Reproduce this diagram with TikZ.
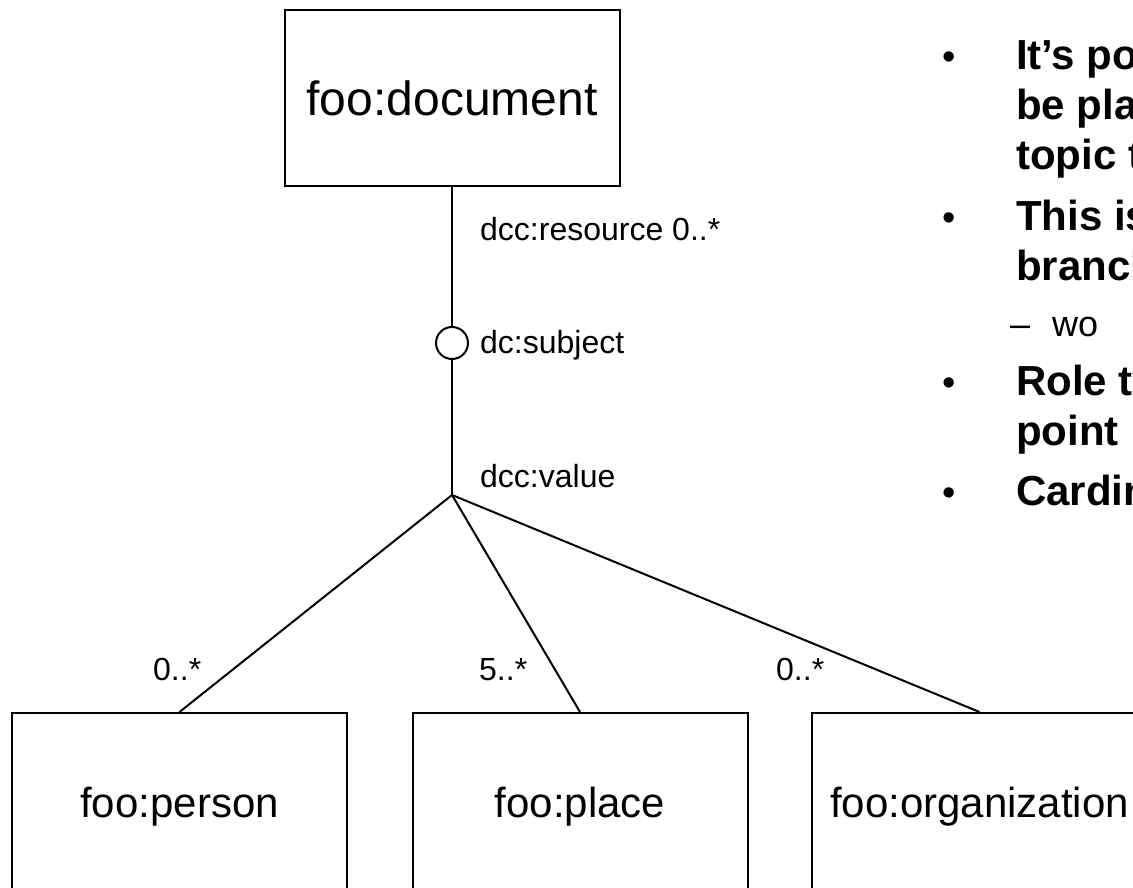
\documentclass[tikz,border=0pt]{standalone}
\usepackage{fontspec}
\setmainfont{Liberation Sans}
\begin{document}
\begin{tikzpicture}[x=1pt,y=-1pt,
  boxst/.style={draw,line width=2pt,inner sep=0pt,minimum width=335pt,text depth=0pt},
  bigbox/.style={boxst,minimum height=176pt,text height=35pt,font=\fontsize{48}{56}\selectfont},
  lowbox/.style={boxst,minimum height=178pt,text height=31pt,font=\fontsize{42}{50}\selectfont},
  conn/.style={line width=2pt},
  lbl/.style={anchor=base west,inner sep=0pt,font=\fontsize{32}{38}\selectfont},
  bultxt/.style={anchor=base west,inner sep=0pt,font=\fontsize{42}{50}\selectfont\bfseries},
  bulmark/.style={anchor=base west,inner sep=0pt,font=\fontsize{38}{44}\selectfont},
  subtxt/.style={anchor=base west,inner sep=0pt,font=\fontsize{36}{42}\selectfont}]
\useasboundingbox (0,0) rectangle (1133,888);
\clip (0,0) rectangle (1133,888);
% boxes
\node[bigbox] (doc) at (452,98) {foo:document};
\node[lowbox] (person) at (179.5,802) {foo:person};
\node[lowbox] (place) at (580,802) {foo:place};
\node[lowbox] (org) at (979.5,802) {foo:organization};
% circle and junction
\node[draw,circle,line width=2pt,minimum size=32pt,inner sep=0pt] (circ) at (452,343) {};
\coordinate (junc) at (452,495);
% connectors
\draw[conn] (doc.south) -- (circ.north);
\draw[conn] (circ.south) -- (junc);
\draw[conn] (junc) -- (person.north);
\draw[conn] (junc) -- (place.north);
\draw[conn] (junc) -- (org.north);
% labels
\node[lbl] (lres) at (480,240) {dcc:resource 0..*};
\node[lbl] (lsub) at (480,353) {dc:subject};
\node[lbl] (lval) at (480,487) {dcc:value};
\node[lbl] (m1) at (153,680) {0..*};
\node[lbl] (m2) at (479,680) {5..*};
\node[lbl] (m3) at (776,680) {0..*};
% bullet text (cut at the right edge)
\node[bulmark] (d1) at (942,70) {•};
\node[bultxt] (t1) at (1016,70) {It’s po};
\node[bultxt] (t2) at (1016,120) {be pla};
\node[bultxt] (t3) at (1016,170) {topic t};
\node[bulmark] (d2) at (942,230) {•};
\node[bultxt] (t4) at (1016,230) {This is};
\node[bultxt] (t5) at (1016,280) {branch};
\node[subtxt] (d3) at (1010,336) {–};
\node[subtxt] (t6) at (1052,336) {wo};
\node[bulmark] (d4) at (942,395) {•};
\node[bultxt] (t7) at (1016,395) {Role ty};
\node[bultxt] (t8) at (1016,445) {point};
\node[bulmark] (d5) at (942,505) {•};
\node[bultxt] (t9) at (1016,505) {Cardin};
\end{tikzpicture}
\end{document}
